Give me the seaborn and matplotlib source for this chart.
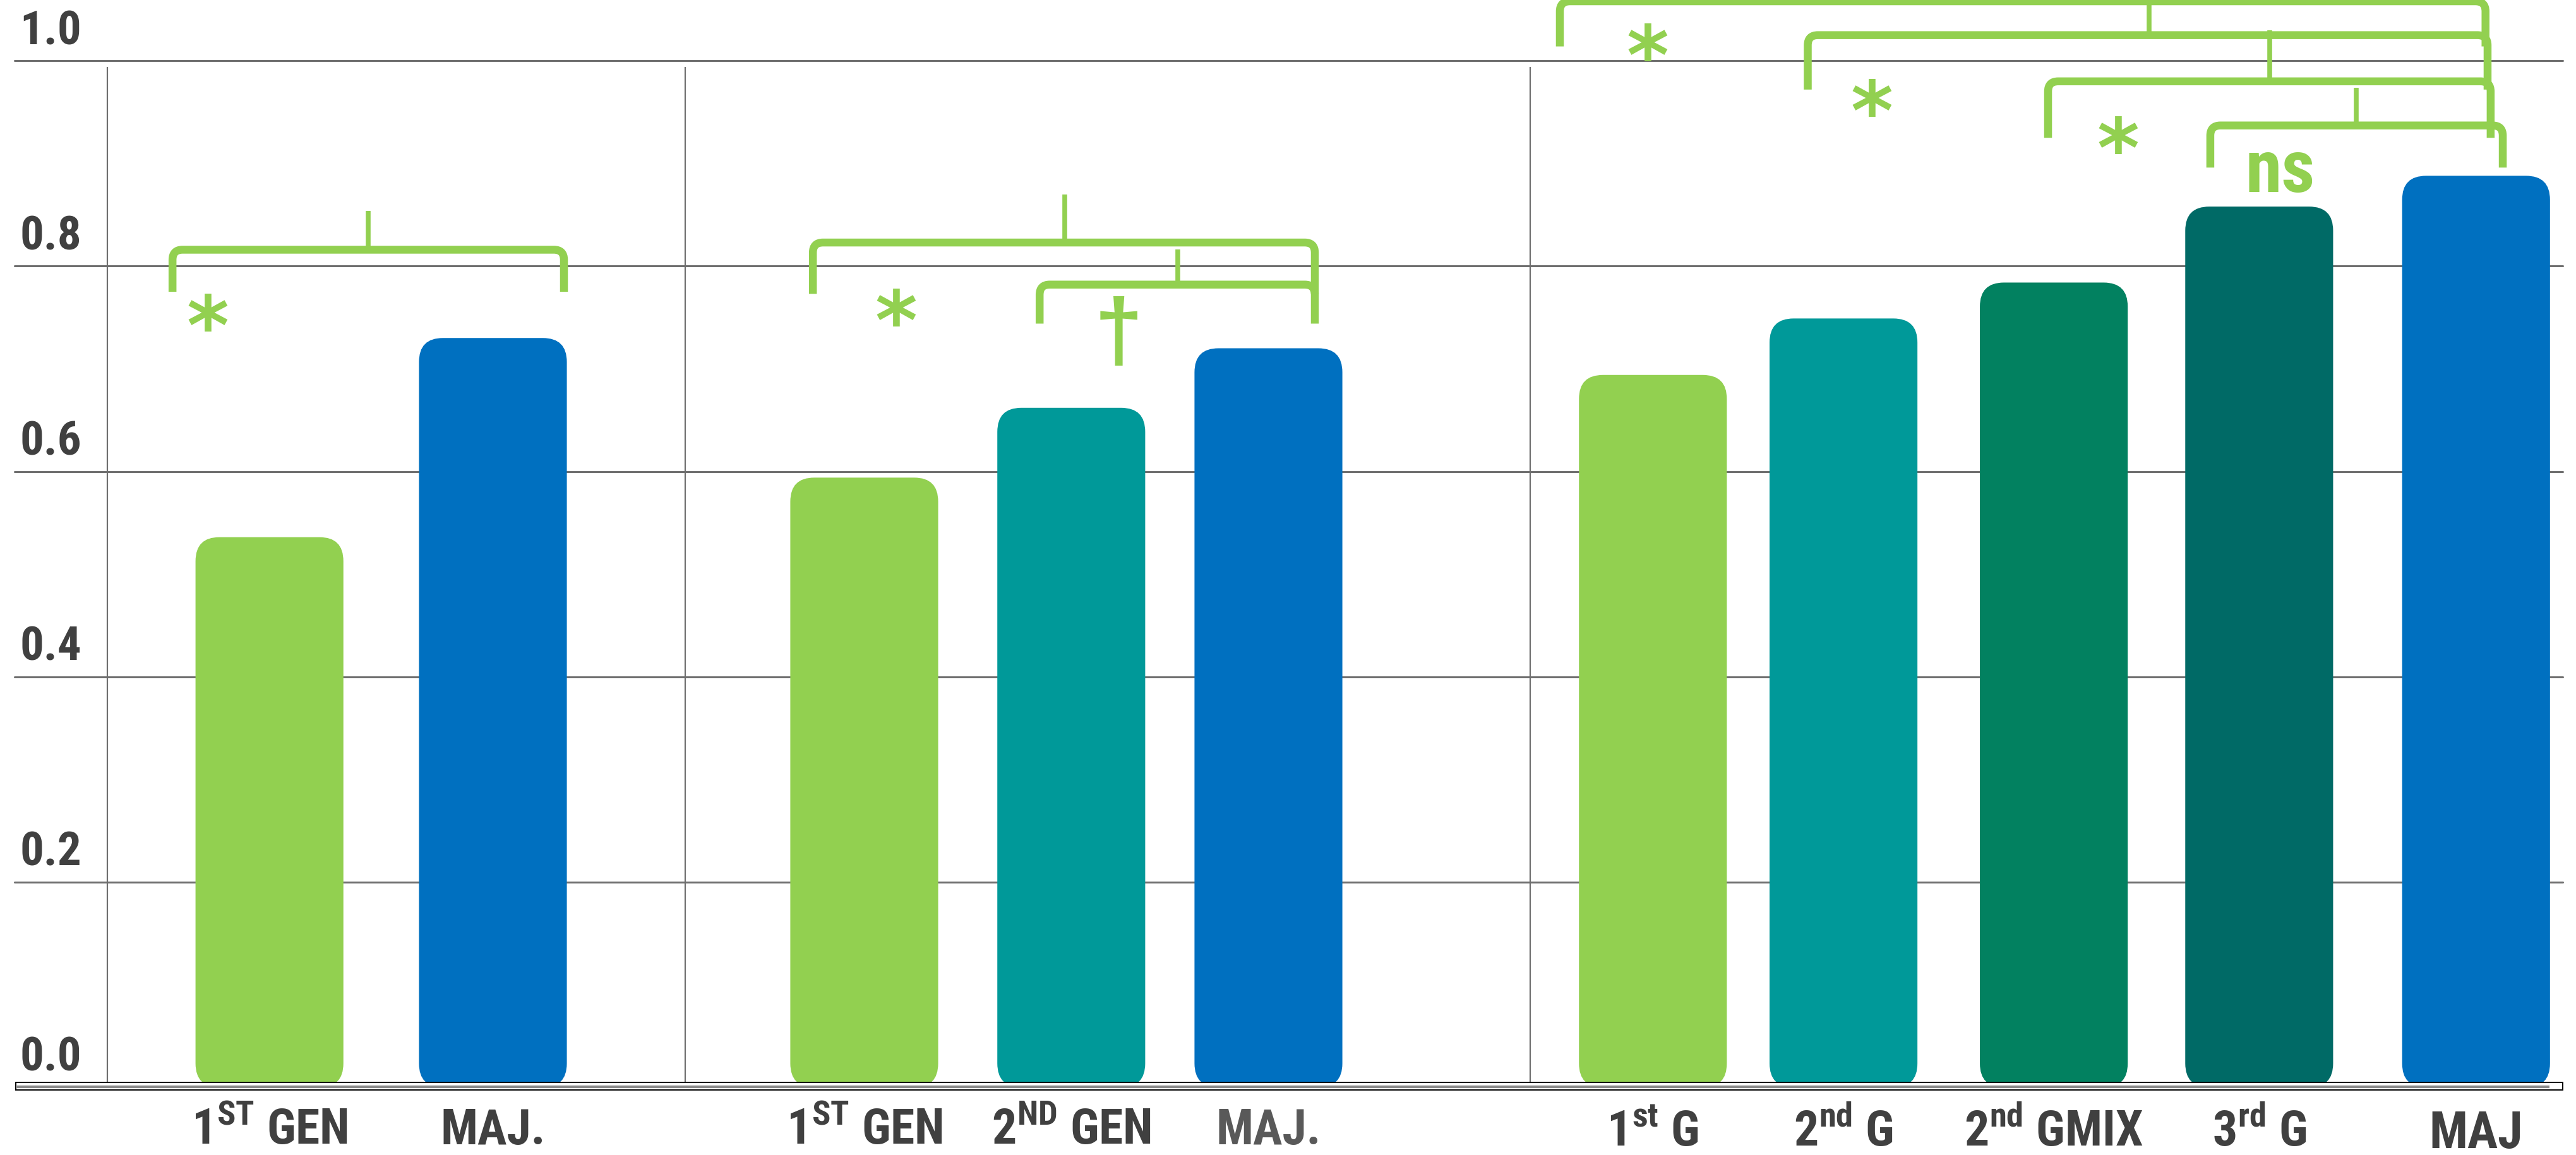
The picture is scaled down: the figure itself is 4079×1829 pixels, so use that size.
import matplotlib
matplotlib.use("Agg")
import matplotlib.pyplot as plt
import matplotlib.transforms as mtransforms
from matplotlib import font_manager
from matplotlib.patches import FancyBboxPatch, Rectangle, PathPatch
from matplotlib.path import Path
import seaborn as sns
import pandas as pd

# ---------------------------------------------------------------- data
bar_ids = ["g1_1st", "g1_maj", "g2_1st", "g2_2nd", "g2_maj",
           "g3_1st", "g3_2nd", "g3_2ndmix", "g3_3rd", "g3_maj"]
tick_labels = [r"1$^{\mathbf{ST}}$ GEN", "MAJ.",
               r"1$^{\mathbf{ST}}$ GEN", r"2$^{\mathbf{ND}}$ GEN", "MAJ.",
               r"1$^{\mathbf{st}}$ G", r"2$^{\mathbf{nd}}$ G", r"2$^{\mathbf{nd}}$ GMIX",
               r"3$^{\mathbf{rd}}$ G", "MAJ"]
values = [0.536, 0.730, 0.594, 0.662, 0.720, 0.694, 0.749, 0.784, 0.858, 0.888]
y_ticks = [0.0, 0.2, 0.4, 0.6, 0.8, 1.0]
y_tick_labels = ["0.0", "0.2", "0.4", "0.6", "0.8", "1.0"]

# significance brackets: (left, right, tip, bar level, leg bottom, tip top, mark, mark x, mark y)
brackets = [
    (0.768, 2.674, 1.721, 0.816, 0.775, 0.854, "*", 0.938, 0.756),
    (3.886, 6.330, 5.113, 0.823, 0.773, 0.870, "*", 4.292, 0.761),
    (4.990, 6.330, 5.663, 0.782, 0.744, 0.816, "\u2020", 5.374, 0.731),
    (7.523, 12.030, None, 1.058, 1.014, None, "*", 7.951, 1.019),
    (8.730, 12.040, 10.392, 1.025, 0.972, 1.075, "*", 9.042, 0.965),
    (9.900, 12.055, 10.980, 0.980, 0.925, 1.030, "*", 10.240, 0.929),
    (10.690, 12.114, 11.401, 0.937, 0.896, 0.974, "ns", 11.030, 0.892),
]

# ---------------------------------------------------------------- layout / style
bar_pos = [1.240, 2.328, 4.136, 5.144, 6.104, 7.976, 8.904, 9.928, 10.928, 11.984]
separators = [0.451, 3.264, 7.379]
bar_width = 0.72
bar_colors = ["#92D050", "#0070C0", "#92D050", "#009999", "#0070C0",
              "#92D050", "#009999", "#028160", "#006A66", "#0070C0"]
label_colors = ["#404040"] * 10
label_colors[4] = "#595959"
label_sizes = [56] * 9 + [58]
label_drop_px = [0, 0, 0, 0, 0, 3, 3, 3, 3, 6]
green = "#92D050"
text_dark = "#404040"

names = {f.name for f in font_manager.fontManager.ttflist}
narrow = "Liberation Sans"
for cand in ["Liberation Sans Narrow", "Arial Narrow", "Roboto Condensed",
             "Open Sans Condensed", "DejaVu Sans Condensed"]:
    if cand in names:
        narrow = cand
        break

sns.set_theme(style="white")
plt.rcParams["font.family"] = ["Liberation Sans", "DejaVu Sans"]
plt.rcParams["mathtext.fontset"] = "custom"
plt.rcParams["mathtext.bf"] = f"{narrow}:bold"
plt.rcParams["mathtext.rm"] = f"{narrow}:bold"

W, H = 4079, 1829
fig = plt.figure(figsize=(W / 100, H / 100), dpi=100)
ax = fig.add_axes([23.4 / W, 107 / H, 4034.6 / W, 1625.7 / H])

df = pd.DataFrame({"bar": bar_ids, "pos": bar_pos, "value": values})
sns.barplot(data=df, x="pos", y="value", hue="bar", palette=bar_colors,
            native_scale=True, dodge=False, legend=False, ax=ax, errorbar=None,
            saturation=1)

ax.set_xlim(0, 12.406)
ax.set_ylim(0, 1.0)

# rounded bars rebuilt from the seaborn rectangles
xs_per_px = 1 / 325.2
ys_per_px = 1 / 1625.7
radius_px = 38
bars = list(ax.patches)
for p in bars:
    cx = p.get_x() + p.get_width() / 2
    h = p.get_height()
    fc = p.get_facecolor()
    p.remove()
    fb = FancyBboxPatch((cx - bar_width / 2, 0), bar_width, h,
                        boxstyle=f"round,pad=0,rounding_size={radius_px * xs_per_px}",
                        mutation_aspect=ys_per_px / xs_per_px,
                        facecolor=fc, edgecolor="none", zorder=3)
    ax.add_patch(fb)

# grid lines, separators, baseline box
for sp in ax.spines.values():
    sp.set_visible(False)
ax.set_yticks(y_ticks)
ax.set_yticklabels([])
ax.tick_params(axis="y", length=0)
for v in y_ticks[1:]:
    ax.axhline(v, color="#6f6f6f", lw=2.2, zorder=1, clip_on=False)
for s in separators:
    ax.plot([s, s], [0, 0.994], color="#6f6f6f", lw=1.6, zorder=1, solid_capstyle="butt")
ax.add_patch(Rectangle((0.005, -0.0025), 12.40, 0.0075, facecolor="white",
                       edgecolor="black", lw=1.4, zorder=4, clip_on=False))
ax.plot([0.005, 12.34], [0.0005, 0.0005], color="#8a8a8a", lw=3, zorder=5,
        clip_on=False, solid_capstyle="butt")

# y labels sit above their grid lines at the left edge
ylab_tr = mtransforms.blended_transform_factory(ax.transAxes, ax.transData)
for v, t in zip(y_ticks, y_tick_labels):
    ax.text(0.0019, v + 0.016, t, transform=ylab_tr, ha="left", va="baseline",
            fontsize=54, fontweight="bold", color=text_dark, family=[narrow])

# category labels
ax.set_xticks(bar_pos)
ax.set_xticklabels(tick_labels)
ax.tick_params(axis="x", length=0, pad=65)
for lab, c, fs, drop in zip(ax.get_xticklabels(), label_colors, label_sizes, label_drop_px):
    lab.set_fontfamily(narrow)
    lab.set_fontweight("bold")
    lab.set_fontsize(fs)
    lab.set_color(c)
    lab.set_va("baseline")
    if drop:
        lab.set_transform(lab.get_transform() +
                          mtransforms.ScaledTranslation(0, -drop / 100, fig.dpi_scale_trans))
ax.set_xlabel("")
ax.set_ylabel("")

# significance brackets with rounded shoulders
rx = 16 * xs_per_px
ry = 16 * ys_per_px


def draw_bracket(x0, x1, xt, y, ybot, ytop):
    verts = [(x0, ybot), (x0, y - ry), (x0, y), (x0 + rx, y),
             (x1 - rx, y), (x1, y), (x1, y - ry), (x1, ybot)]
    codes = [Path.MOVETO, Path.LINETO, Path.CURVE3, Path.CURVE3,
             Path.LINETO, Path.CURVE3, Path.CURVE3, Path.LINETO]
    ax.add_patch(PathPatch(Path(verts, codes), fill=False, edgecolor=green,
                           lw=9, capstyle="butt", joinstyle="round",
                           clip_on=False, zorder=6))
    if xt is not None:
        ax.plot([xt, xt], [y, ytop], lw=5.5, color=green, clip_on=False,
                zorder=6, solid_capstyle="butt")


for (x0, x1, xt, y, ybot, ytop, mark, mx, my) in brackets:
    draw_bracket(x0, x1, xt, y, ybot, ytop)
    if mark == "*":
        ax.text(mx, my - 0.020, mark, ha="center", va="center", fontsize=92,
                fontweight="bold", color=green, family=["DejaVu Sans"], zorder=7)
    elif mark == "ns":
        ax.text(mx, my, mark, ha="center", va="center", fontsize=84,
                fontweight="bold", color=green, family=[narrow], zorder=7)
    else:
        ax.text(mx, my, mark, ha="center", va="center", fontsize=100,
                fontweight="bold", color=green, family=["Liberation Sans", "DejaVu Sans"], zorder=7)

fig.savefig("out.png", dpi=100, facecolor="white")
